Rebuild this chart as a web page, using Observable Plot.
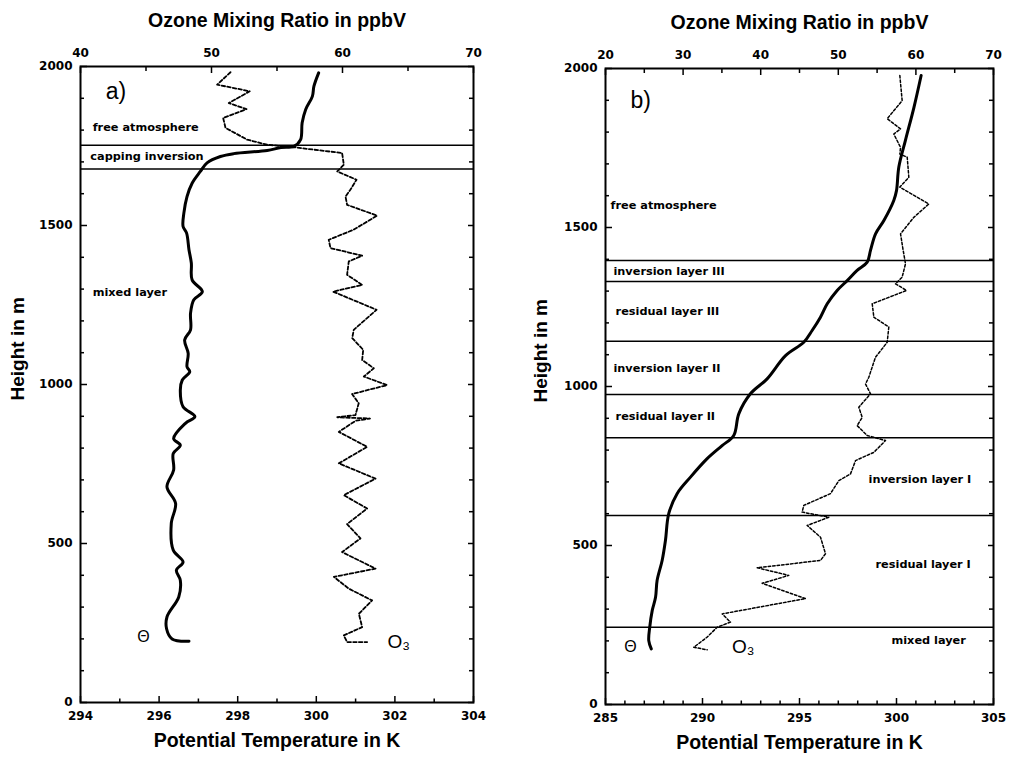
<!DOCTYPE html>
<html><head><meta charset="utf-8">
<script src="https://cdn.jsdelivr.net/npm/d3@7"></script>
<script src="https://cdn.jsdelivr.net/npm/@observablehq/plot@0.6"></script>
<style>
body{margin:0;background:#fff;}
#wrap{position:relative;width:1017px;height:760px;}
#wrap svg{position:absolute;top:0;}
</style></head><body><div id="wrap"></div>
<script>
// ---------- Panel a data ----------
const thetaA_h = [1980,1938,1906,1865,1823,1770,1749,1745,1736,1726,1717,1697,1670,1633,1591,1539,1497,1476,1424,1382,1329,1292,1266,1224,1172,1140,1098,1056,1040,1014,983,930,899,878,830,809,783,731,678,626,563,479,442,416,384,332,269,232,200,193];
const thetaA_K = [300.06,299.94,299.9,299.73,299.64,299.6,299.43,299.1,298.75,297.9,297.56,297.22,297.05,296.84,296.71,296.63,296.61,296.7,296.76,296.82,296.84,297.1,296.88,296.8,296.8,296.65,296.74,296.71,296.78,296.59,296.54,296.61,296.91,296.67,296.37,296.54,296.36,296.37,296.2,296.42,296.31,296.36,296.61,296.44,296.54,296.5,296.2,296.19,296.33,296.76];
const ozoneA_h = [1982,1943,1922,1885,1866,1838,1807,1770,1754,1746,1728,1691,1670,1644,1613,1591,1565,1531,1487,1455,1429,1405,1387,1345,1313,1292,1235,1172,1146,1109,1077,1051,1025,998,970,941,904,897,893,886,851,804,752,704,652,610,561,516,473,421,395,358,321,279,237,211,190,190];
const ozoneA_ppb = [51.45,50.43,52.92,51.32,52.67,50.89,51.07,52.72,54.25,56.28,59.97,60.1,59.6,61.07,60.61,60.23,60.35,62.64,60.86,58.95,59.08,61.5,60.48,60.35,61.5,59.28,62.6,60.86,60.74,61.58,61.5,62.39,61.63,63.4,60.73,61.24,60.99,59.6,62.1,61.0,59.72,61.88,59.72,62.52,60.1,61.88,60.35,61.37,59.97,62.52,59.34,60.48,62.26,61.25,61.5,60.1,60.35,61.88];
const layersA = [1752, 1678];
const labelsA_text = ["free atmosphere", "capping inversion", "mixed layer"];
const labelsA_K = [294.31, 294.25, 294.31];
const labelsA_h = [1808, 1716, 1291];

// ---------- Panel b data ----------
const thetaB_h = [1978,1878,1774,1690,1616,1585,1522,1480,1428,1391,1365,1333,1302,1260,1218,1176,1139,1097,1024,977,914,846,814,773,715,663,600,516,453,390,337,296,243,201,175];
const thetaB_K = [301.27,300.9,300.46,300.12,300.0,299.86,299.35,298.92,298.66,298.49,297.97,297.46,296.94,296.43,296.08,295.65,295.22,294.28,293.33,292.47,291.87,291.61,291.01,290.24,289.38,288.69,288.26,288.09,287.92,287.66,287.58,287.41,287.28,287.23,287.36];
const ozoneB_h = [1978,1899,1842,1810,1794,1752,1731,1721,1658,1627,1574,1532,1480,1428,1386,1344,1323,1302,1260,1218,1187,1139,1092,1029,1008,977,935,903,877,846,830,793,767,725,704,663,626,605,589,563,526,474,453,430,406,381,333,285,259,243,212,180,172];
const ozoneB_ppb = [57.93,58.23,56.3,58.02,57.15,58.02,57.93,58.88,59.09,57.93,61.66,59.73,58.02,58.36,58.66,58.23,57.37,58.79,54.37,54.58,56.51,56.3,54.79,53.93,53.51,54.15,52.64,53.08,52.43,53.72,56.08,54.58,52.22,51.57,50.07,48.99,45.55,45.34,48.78,45.99,47.71,48.35,47.71,39.55,43.62,40.19,45.77,35.04,36.1,34.39,33.1,31.38,33.1];
const layersB = [1396, 1330, 1142, 975, 839, 594, 243];
const labelsB_text = ["free atmosphere", "inversion layer III", "residual layer III", "inversion layer II", "residual layer II", "inversion layer I", "residual layer I", "mixed layer"];
const labelsB_K = [285.26, 285.41, 285.52, 285.41, 285.52, 298.56, 298.92, 299.74];
const labelsB_h = [1569, 1363, 1236, 1058, 907, 707, 440, 201];

// ---------- Ticks ----------
const heightMajor = [0, 500, 1000, 1500, 2000];
const heightMinor = d3.range(100, 2000, 100).filter(d => d % 500 !== 0);
const tempA_major = [294, 296, 298, 300, 302, 304];
const tempA_minor = [295, 297, 299, 301, 303];
const ozoneA_major = [40, 50, 60, 70];
const ozoneA_minor = [45, 55, 65];
const tempB_major = [285, 290, 295, 300, 305];
const tempB_minor = d3.range(286, 305).filter(d => d % 5 !== 0);
const ozoneB_major = [20, 30, 40, 50, 60, 70];
const ozoneB_minor = [25, 35, 45, 55, 65];

const SANS = "'Liberation Sans', Arial, Helvetica, sans-serif";
const WIDE = "'DejaVu Sans', Verdana, sans-serif";
const zip = (hs, vs) => hs.map((h, i) => ({h, v: vs[i]}));
const lab = (ts, ks, hs) => ts.map((t, i) => ({t, k: ks[i], h: hs[i]}));

function panel(c) {
  const common = {
    width: c.width, height: 760,
    marginLeft: c.ml, marginRight: c.mr, marginTop: c.mt, marginBottom: c.mb,
    style: {background: "transparent", fontFamily: WIDE, fontSize: "12px", fontWeight: "bold", color: "black", overflow: "visible"}
  };
  const blank = () => "";
  const tk = {tickFormat: blank, label: null, strokeWidth: 1.5};
  const base = Plot.plot({
    ...common,
    x: {domain: c.tDom}, y: {domain: [0, 2000]},
    marks: [
      Plot.ruleY(c.layers, {stroke: "black", strokeWidth: 1.5}),
      Plot.line(c.theta, {x: "v", y: "h", stroke: "black", strokeWidth: 3, strokeLinejoin: "round", curve: "catmull-rom"}),
      Plot.frame({stroke: "black", strokeWidth: 2}),
      // inward ticks: positive length shifted back inside the frame
      Plot.axisX(c.tMin, {anchor: "bottom", tickSize: 3.5, dy: -3.5, ...tk}),
      Plot.axisX(c.tMaj, {anchor: "bottom", tickSize: 6, dy: -6, ...tk}),
      Plot.axisX(c.tMaj, {anchor: "bottom", tickSize: 0, tickPadding: 9, label: null, tickFormat: "d"}),
      Plot.axisY(heightMinor, {anchor: "left", tickSize: 4, dx: 4, ...tk}),
      Plot.axisY(heightMajor, {anchor: "left", tickSize: 7, dx: 7, ...tk}),
      Plot.axisY(heightMajor, {anchor: "left", tickSize: 0, tickPadding: 8, label: null, tickFormat: "d"}),
      Plot.axisY(heightMinor, {anchor: "right", tickSize: 5, dx: -5, ...tk}),
      Plot.axisY(heightMajor, {anchor: "right", tickSize: 6, dx: -6, ...tk}),
      Plot.text(c.labels, {x: "k", y: "h", text: "t", textAnchor: "start", fontSize: 11.3, fontWeight: "bold", fontFamily: WIDE}),
      Plot.text([c.letter], {x: [c.letterPos[0]], y: [c.letterPos[1]], textAnchor: "start", fontSize: 23, fontWeight: "normal", fontFamily: SANS}),
      Plot.text(["Θ"], {x: [c.thetaPos[0]], y: [c.thetaPos[1]], fontSize: 16, fontWeight: "normal", fontFamily: SANS}),
      Plot.text(["O₃"], {x: [c.o3Pos[0]], y: [c.o3Pos[1]], fontSize: 19, fontWeight: "normal", fontFamily: SANS}),
      Plot.text(["Potential Temperature in K"], {frameAnchor: "bottom", dy: 44, fontSize: 19.5, fontWeight: "bold", fontFamily: SANS}),
      Plot.text(["Height in m"], {frameAnchor: "left", dx: c.ylabDx, dy: 16, rotate: -90, fontSize: 19, fontWeight: "bold", fontFamily: SANS})
    ]
  });
  const over = Plot.plot({
    ...common,
    x: {domain: c.oDom}, y: {domain: [0, 2000], axis: null},
    marks: [
      Plot.line(c.ozone, {x: "v", y: "h", stroke: "black", strokeWidth: c.dashW, strokeDasharray: c.dash}),
      Plot.axisX(c.oMin, {anchor: "top", tickSize: 4, dy: 4, ...tk}),
      Plot.axisX(c.oMaj, {anchor: "top", tickSize: 6, dy: 6, ...tk}),
      Plot.axisX(c.oMaj, {anchor: "top", tickSize: 0, tickPadding: 10, label: null, tickFormat: "d"}),
      Plot.text(["Ozone Mixing Ratio in ppbV"], {frameAnchor: "top", dy: -53, fontSize: 19.5, fontWeight: "bold", fontFamily: SANS})
    ]
  });
  for (const s of [base, over]) {
    s.style.left = c.left + "px";
    document.getElementById("wrap").appendChild(s);
  }
}

panel({
  left: 0, width: 500, ml: 80, mr: 27, mt: 66, mb: 58,
  tDom: [294, 304], oDom: [40, 70],
  tMaj: tempA_major, tMin: tempA_minor, oMaj: ozoneA_major, oMin: ozoneA_minor,
  theta: zip(thetaA_h, thetaA_K), ozone: zip(ozoneA_h, ozoneA_ppb),
  layers: layersA, labels: lab(labelsA_text, labelsA_K, labelsA_h),
  letter: "a)", letterPos: [294.64, 1921], thetaPos: [295.6, 205], o3Pos: [302.1, 190],
  dash: "3.5,2.2", dashW: 1.8, ylabDx: -63
});
panel({
  left: 500, width: 517, ml: 105, mr: 24, mt: 68, mb: 56,
  tDom: [285, 305], oDom: [20, 70],
  tMaj: tempB_major, tMin: tempB_minor, oMaj: ozoneB_major, oMin: ozoneB_minor,
  theta: zip(thetaB_h, thetaB_K), ozone: zip(ozoneB_h, ozoneB_ppb),
  layers: layersB, labels: lab(labelsB_text, labelsB_K, labelsB_h),
  letter: "b)", letterPos: [286.29, 1899], thetaPos: [286.29, 180], o3Pos: [292.1, 180],
  dash: "2.5,2", dashW: 1.5, ylabDx: -65
});
</script></body></html>
